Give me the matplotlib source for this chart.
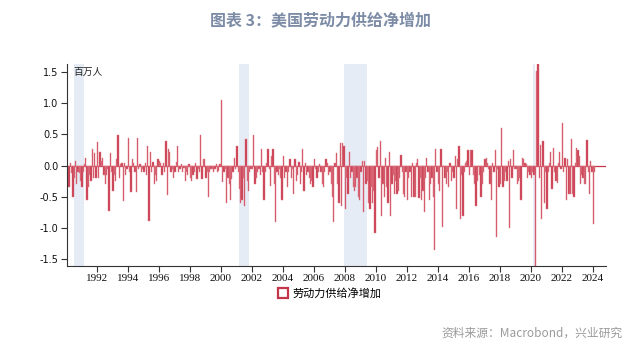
import matplotlib
matplotlib.use("Agg")
import matplotlib.pyplot as plt
import numpy as np
from matplotlib.lines import Line2D

plt.rcParams['font.family'] = ['Noto Sans CJK SC', 'DejaVu Sans']

# Monthly net labour-supply increase (millions), Jan 1990 .. Feb 2024
start_year = 1990
values = [
    # 1990
    -0.30, -0.15, -0.35, 0.05, -0.12, -0.50, -0.20, 0.07, -0.30, -0.10, -0.12, -0.25,
    # 1991
    -0.35, -0.10, 0.03, 0.12, -0.55, -0.35, -0.15, -0.25, 0.27, -0.20, 0.20, -0.20,
    # 1992
    0.38, -0.20, 0.22, 0.07, 0.13, -0.15, -0.30, -0.15, -0.05, -0.73, 0.20, -0.10,
    # 1993
    -0.40, -0.15, -0.25, 0.10, 0.49, -0.20, 0.03, 0.05, -0.57, 0.05, -0.15, -0.05,
    # 1994
    0.45, -0.10, -0.42, 0.10, 0.05, -0.10, -0.42, 0.44, -0.05, 0.03, -0.10, -0.05,
    # 1995
    -0.10, 0.05, -0.15, 0.32, -0.89, 0.22, -0.10, 0.06, -0.30, -0.15, -0.25, 0.10,
    # 1996
    0.07, 0.05, -0.15, 0.05, -0.10, 0.40, -0.47, 0.27, 0.22, -0.10, -0.05, -0.20,
    # 1997
    -0.10, 0.06, 0.32, -0.10, -0.05, 0.03, -0.10, -0.03, -0.25, -0.10, -0.15, 0.03,
    # 1998
    -0.20, -0.25, -0.15, -0.10, 0.04, -0.22, -0.05, -0.10, 0.49, -0.22, 0.10, 0.10,
    # 1999
    -0.20, -0.10, -0.50, -0.10, -0.05, -0.05, -0.10, -0.05, 0.02, -0.10, -0.08, 0.03,
    # 2000
    1.05, -0.27, -0.10, -0.05, -0.60, -0.20, -0.30, -0.55, -0.22, -0.10, 0.13, -0.05,
    # 2001
    0.32, -0.10, -0.37, -0.60, -0.55, -0.20, -0.65, 0.42, -0.25, -0.40, -0.10, -0.05,
    # 2002
    -0.05, 0.49, -0.30, -0.20, -0.10, -0.05, -0.15, 0.27, -0.10, -0.55, -0.10, 0.05,
    # 2003
    0.27, -0.05, -0.32, 0.15, 0.27, -0.30, -0.90, -0.10, -0.15, -0.05, -0.20, -0.55,
    # 2004
    0.15, -0.20, -0.10, -0.35, -0.10, 0.10, -0.20, -0.05, -0.45, 0.10, -0.25, -0.15,
    # 2005
    0.06, -0.30, -0.10, 0.27, -0.40, 0.05, -0.15, -0.10, -0.20, -0.30, -0.25, -0.35,
    # 2006
    0.10, -0.05, -0.20, -0.10, 0.02, -0.10, -0.30, -0.35, -0.10, 0.10, 0.05, -0.15,
    # 2007
    -0.10, -0.30, -0.50, -0.90, 0.05, 0.20, -0.30, -0.60, 0.36, -0.65, 0.36, 0.32,
    # 2008
    -0.70, -0.20, -0.45, 0.22, -0.20, -0.10, -0.35, -0.40, -0.35, -0.20, -0.50, -0.55,
    # 2009
    -0.10, 0.08, -0.75, 0.08, -0.30, -0.25, -0.60, -0.70, -0.35, -0.60, -0.40, -1.08,
    # 2010
    0.25, 0.30, -0.20, 0.40, -0.80, -0.30, -0.50, 0.12, -0.35, -0.60, 0.22, -0.80,
    # 2011
    -0.30, -0.15, -0.45, -0.25, -0.45, -0.40, -0.20, 0.17, -0.10, -0.45, -0.50, -0.10,
    # 2012
    -0.55, -0.20, -0.10, -0.50, 0.05, -0.50, -0.50, 0.05, 0.10, -0.52, -0.20, -0.55,
    # 2013
    -0.40, -0.75, -0.20, 0.13, -0.10, -0.55, -0.30, -0.20, -0.50, -1.35, 0.27, -0.10,
    # 2014
    -0.30, -0.40, 0.27, -0.98, 0.00, -0.20, -0.30, -0.10, -0.35, 0.05, -0.25, -0.10,
    # 2015
    -0.20, 0.15, -0.70, 0.10, 0.32, -0.85, -0.15, -0.80, -0.10, 0.05, 0.08, 0.25,
    # 2016
    -0.15, 0.25, 0.25, -0.15, -0.30, -0.65, -0.25, 0.00, -0.15, -0.50, -0.30, -0.10,
    # 2017
    0.10, 0.12, 0.05, -0.05, -0.30, -0.55, 0.05, -0.10, 0.25, -1.15, -0.05, -0.35,
    # 2018
    -0.30, 0.60, -0.35, -0.25, -0.10, -0.25, 0.08, -1.00, 0.10, -0.20, 0.25, -0.05,
    # 2019
    -0.05, -0.30, -0.25, -0.20, -0.55, 0.13, 0.10, 0.05, 0.02, -0.20, -0.10, -0.15,
    # 2020
    -0.20, -0.10, -0.15, -1.90, 1.52, 1.70, -0.20, 0.33, -0.85, 0.40, -0.60, -0.10,
    # 2021
    -0.70, -0.10, 0.05, 0.22, -0.38, 0.29, -0.10, -0.25, -0.28, 0.05, 0.22, -0.05,
    # 2022
    0.68, -0.10, 0.12, -0.55, 0.10, -0.45, -0.45, 0.42, -0.45, -0.50, 0.05, 0.28,
    # 2023
    0.25, 0.15, -0.30, -0.15, -0.20, -0.30, -0.30, 0.41, -0.10, -0.45, 0.08, -0.10,
    # 2024
    -0.93, -0.10,
]
recessions = [(1990.55, 1991.2), (2001.2, 2001.84), (2007.97, 2009.42), (2020.12, 2020.30)]
year_ticks = list(range(1992, 2025, 2))
y_ticks = [1.5, 1.0, 0.5, 0.0, -0.5, -1.0, -1.5]
series_name = "劳动力供给净增加"
unit_label = "百万人"
title = "图表 3：美国劳动力供给净增加"
source = "资料来源：Macrobond，兴业研究"

dates = start_year + (np.arange(len(values)) + 0.5) / 12.0

fig = plt.figure(figsize=(6.4, 3.54), dpi=100)
ax = fig.add_axes([0.1047, 0.2486, 0.8423, 0.5705])

for a, b in recessions:
    ax.axvspan(a, b, color='#e5ecf5', lw=0, zorder=0)

bar_color = '#c5354a'
ax.bar(dates, values, width=1/12, color=bar_color, edgecolor='#e2848f',
       linewidth=0.35, zorder=2)
ax.axhline(0, color=bar_color, lw=0.9, zorder=1)

ax.set_xlim(1990.08, 2024.86)
ax.set_ylim(-1.61, 1.63)
ax.set_xticks(year_ticks)
ax.set_xticklabels([str(y) for y in year_ticks], family='Liberation Serif', fontsize=8)
ax.set_yticks(y_ticks)
ax.set_yticklabels([f"{v:.1f}" for v in y_ticks], family='DejaVu Sans', fontsize=7)
for s in ['top', 'right']:
    ax.spines[s].set_visible(False)
for s in ['left', 'bottom']:
    ax.spines[s].set_color('#333333')
    ax.spines[s].set_linewidth(0.8)
ax.tick_params(axis='both', direction='out', length=4, width=0.8, colors='#333333', pad=2)
ax.tick_params(axis='x', labelcolor='#111111')
ax.tick_params(axis='y', labelcolor='#111111')

ax.text(0.012, 0.985, unit_label, transform=ax.transAxes, ha='left', va='top',
        fontsize=7, color='#222222')

handle = Line2D([], [], marker='s', linestyle='none', markersize=7,
                markerfacecolor='white', markeredgecolor=bar_color, markeredgewidth=1.6)
fig.legend([handle], [series_name], loc='center', bbox_to_anchor=(0.515, 0.172),
           frameon=False, fontsize=8, handletextpad=0.3, handlelength=1.0)

fig.text(0.5, 0.944, title, ha='center', va='center', fontsize=11.5,
         fontweight='bold', color='#7d8ca6')
fig.text(0.972, 0.058, source, ha='right', va='center', fontsize=8.5, color='#9a9a9a')

fig.savefig('out.png', dpi=100)
